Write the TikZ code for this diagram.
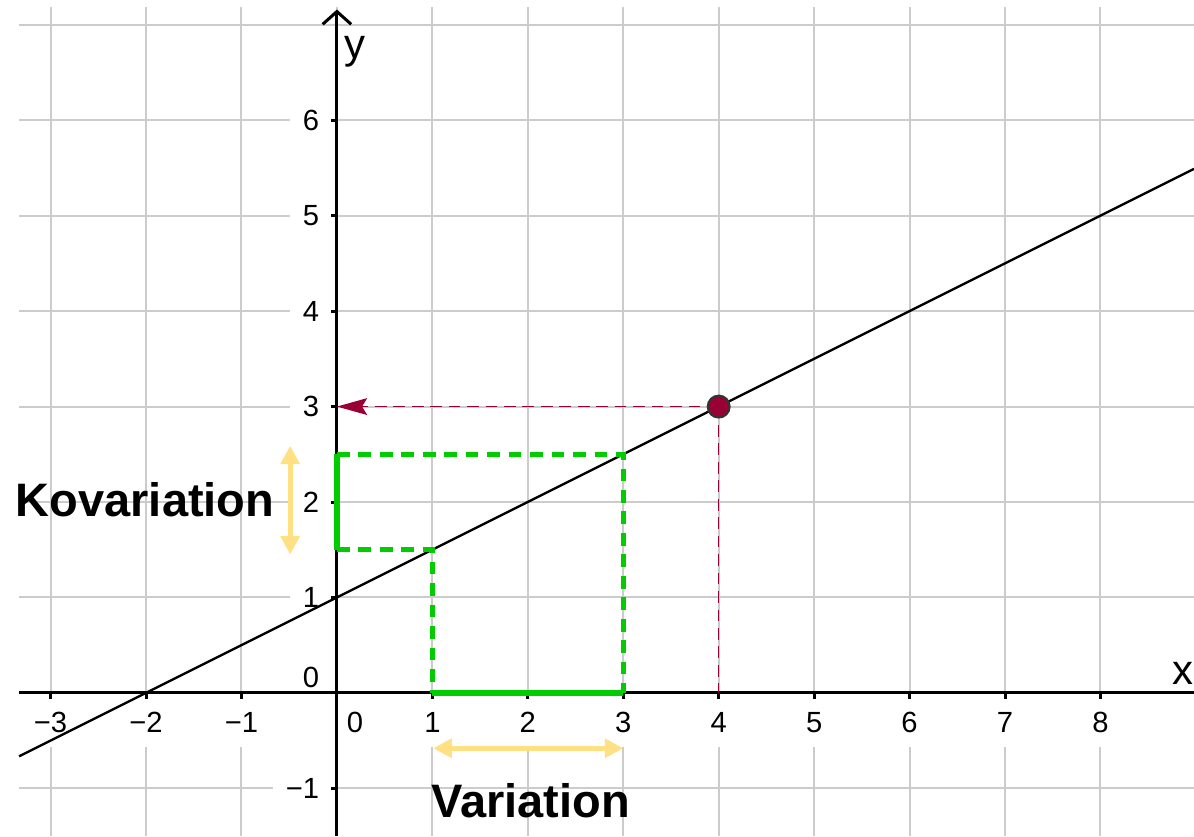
\documentclass[tikz,border=0pt]{standalone}
\usepackage{fontspec}
\setmainfont{Liberation Sans}
\usepackage{xcolor}
\usepackage{tikz}
\usetikzlibrary{arrows.meta,positioning,calc}
\definecolor{gridgray}{RGB}{204,204,204}
\definecolor{pointred}{RGB}{153,0,51}
\definecolor{vargreen}{RGB}{0,204,0}
\definecolor{varyellow}{RGB}{255,224,130}
\newcommand{\ticksize}{\fontsize{8.7}{10}\selectfont}

\begin{document}
\begin{tikzpicture}[>=Stealth,
    gridline/.style={gridgray, line width=0.6pt},
    axisline/.style={black, line width=0.9pt},
    xlab/.style={fill=white, anchor=north, minimum height=0.52cm, inner xsep=2pt, inner ysep=0pt, font=\ticksize},
    ylab/.style={fill=white, anchor=east, minimum height=0.36cm, inner xsep=3.7pt, inner ysep=0pt, font=\ticksize},
    helpline/.style={pointred, line width=0.45pt, dash pattern=on 3.5pt off 2pt},
    greendash/.style={vargreen, line width=1.4pt, dash pattern=on 3.8pt off 2.6pt},
    greensolid/.style={vargreen, line width=1.6pt},
    yarrow/.style={varyellow, line width=1.5pt, {Triangle[length=5.5pt,width=5.5pt]}-{Triangle[length=5.5pt,width=5.5pt]}},
    biglab/.style={font=\fontsize{14}{16}\selectfont\bfseries}]
  \useasboundingbox[fill=white] (-3.53,-1.50) rectangle (8.98,7.26);
  % grid
  \foreach \x in {-3,...,8}
    \draw[gridline] (\x,-1.50) -- (\x,7.19);
  \foreach \y in {-1,...,7}
    \draw[gridline] (-3.33,\y) -- (8.98,\y);
  % tick labels, their white boxes cut the grid
  \foreach \x/\t [count=\i] in {-3/{−3},-2/{−2},-1/{−1},1/1,2/2,3/3,4/4,5/5,6/6,7/7,8/8}
    \node[xlab] (xtick\i) at (\x,-0.04) {\t};
  \node[xlab] (xzero) at (0.19,-0.04) {0};
  \foreach \y/\t [count=\i] in {-1/{−1},1/1,2/2,3/3,4/4,5/5,6/6}
    \node[ylab] (ytick\i) at (-0.05,\y) {\t};
  \node[ylab] (yzero) at (-0.05,0.16) {0};
  % axes
  \draw[axisline] (-3.33,0) -- (8.98,0);
  \draw[axisline, -{Straight Barb[length=3.8pt,width=8.5pt]}] (0,-1.50) -- (0,7.16);
  \foreach \x in {-3,-2,-1,1,2,3,4,5,6,7,8}
    \draw[axisline] (\x,0) -- (\x,-0.06);
  \foreach \y in {-1,1,2,3,4,5,6}
    \draw[axisline] (0,\y) -- (-0.06,\y);
  \node[font=\fontsize{12.5}{14}\selectfont] (xname) at (8.86,0.20) {x};
  \node[font=\fontsize{12.5}{14}\selectfont] (yname) at (0.19,6.72) {y};
  % the line y = x/2 + 1
  \coordinate (lstart) at (-3.33,-0.665);
  \coordinate (lend) at (8.98,5.49);
  \draw[line width=0.7pt] (lstart) -- (lend);
  % green steps: variation on x, covariation on y
  \coordinate (A) at (1,1.5);
  \coordinate (B) at (3,2.5);
  \draw[greendash] (0,1.5) -- (A) -- (1,0);
  \draw[greendash] (0,2.5) -- (B) -- (3,0);
  \draw[greensolid] (0,1.5) -- (0,2.5);
  \draw[greensolid] (1,0) -- (3,0);
  % point on the line, read off at the y axis
  \coordinate (P) at (4,3);
  \draw[helpline] (P) -- (4,0);
  \draw[helpline, -{Stealth[length=9pt,width=5pt,inset=1.5pt]}] (P) -- (0,3);
  \filldraw[fill=pointred, draw=black!80, line width=0.6pt] (P) circle (0.115);
  % yellow arrows and labels
  \draw[yarrow] (-0.49,1.45) -- (-0.49,2.59);
  \draw[yarrow] (1.01,-0.58) -- (3.0,-0.58);
  \node[biglab] (kov) at (-2.01,2.02) {Kovariation};
  \node[biglab] (var) at (2.03,-1.13) {Variation};
\end{tikzpicture}
\end{document}
